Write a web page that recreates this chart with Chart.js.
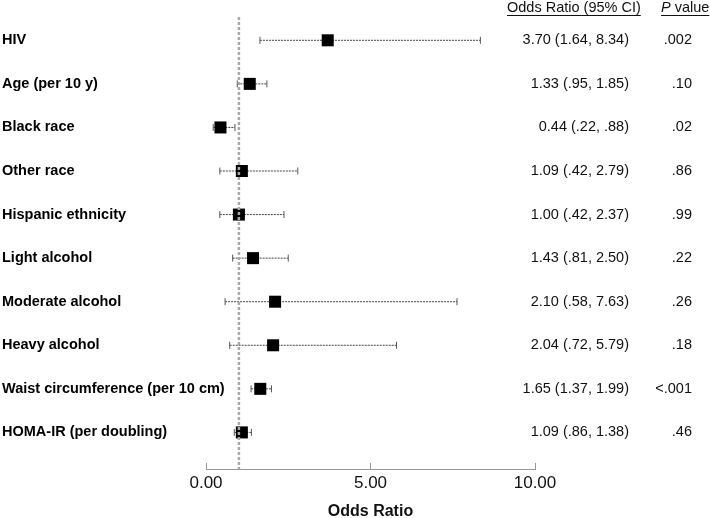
<!DOCTYPE html>
<html>
<head>
<meta charset="utf-8">
<script src="https://cdn.jsdelivr.net/npm/chart.js@4/dist/chart.umd.min.js"></script>
<style>
  html, body { margin: 0; padding: 0; background: #fff; }
  #wrap { width: 710px; height: 518px; position: relative; }
</style>
</head>
<body>
<div id="wrap"><canvas id="c"></canvas></div>
<script>
const categories = ["HIV", "Age (per 10 y)", "Black race", "Other race", "Hispanic ethnicity",
  "Light alcohol", "Moderate alcohol", "Heavy alcohol", "Waist circumference (per 10 cm)", "HOMA-IR (per doubling)"];
const oddsRatios = [3.70, 1.33, 0.44, 1.09, 1.00, 1.43, 2.10, 2.04, 1.65, 1.09];
const ciLow = [1.64, 0.95, 0.22, 0.42, 0.42, 0.81, 0.58, 0.72, 1.37, 0.86];
const ciHigh = [8.34, 1.85, 0.88, 2.79, 2.37, 2.50, 7.63, 5.79, 1.99, 1.38];
const pValues = [".002", ".10", ".02", ".86", ".99", ".22", ".26", ".18", "<.001", ".46"];
const xTicks = [0, 5, 10];
const referenceOR = 1;

const FONT = "'Liberation Sans', Arial, sans-serif";
const fmtCI = v => { const s = v.toFixed(2); return s.startsWith("0") ? s.slice(1) : s; };
const ciTexts = oddsRatios.map((o, i) => o.toFixed(2) + " (" + fmtCI(ciLow[i]) + ", " + fmtCI(ciHigh[i]) + ")");

const yMin = -0.535, yMax = 9.84;

const datasets = [];
// reference line at OR = 1 (on top)
datasets.push({
  type: 'line',
  data: [{x: referenceOR, y: yMin}, {x: referenceOR, y: yMax}],
  borderColor: '#a8a8a8', borderWidth: 2.5, borderDash: [3, 2],
  pointRadius: 0, order: 0
});
// odds ratio squares
datasets.push({
  type: 'scatter',
  data: oddsRatios.map((v, i) => ({x: v, y: i})),
  pointStyle: 'rect', pointRadius: 8.5, pointHoverRadius: 8.5,
  backgroundColor: '#000', borderColor: '#000', borderWidth: 0, order: 1
});
// confidence intervals
categories.forEach((c, i) => {
  datasets.push({
    type: 'line',
    data: [{x: ciLow[i], y: i}, {x: ciHigh[i], y: i}],
    borderColor: '#444', borderWidth: 1, borderDash: [2, 1],
    pointStyle: 'line', pointRotation: 90, pointRadius: 3.5, pointHoverRadius: 3.5,
    pointBorderColor: '#555', pointBorderWidth: 1, order: 2
  });
});

const columnsPlugin = {
  id: 'columns',
  afterDraw(chart) {
    const ctx = chart.ctx;
    const y = chart.scales.y;
    ctx.save();
    ctx.textBaseline = 'middle';
    // row labels
    ctx.fillStyle = '#000';
    ctx.font = "bold 14.5px " + FONT;
    ctx.textAlign = 'left';
    categories.forEach((c, i) => {
      ctx.fillText(c, 2, y.getPixelForValue(i));
    });
    ctx.fillStyle = '#111';
    ctx.font = "14.5px " + FONT;
    // header
    const h1 = "Odds Ratio (95% CI)";
    ctx.fillText(h1, 507, 8);
    const w1 = ctx.measureText(h1).width;
    ctx.fillRect(507, 15, w1, 1);
    ctx.font = "italic 14.5px " + FONT;
    ctx.fillText("P", 661, 8);
    const wp = ctx.measureText("P ").width;
    ctx.font = "14.5px " + FONT;
    ctx.fillText("value", 661 + wp, 8);
    const wv = ctx.measureText("value").width;
    ctx.fillRect(661, 15, wp + wv, 1);
    // rows
    ctx.textAlign = 'right';
    categories.forEach((c, i) => {
      const py = y.getPixelForValue(i);
      ctx.fillText(ciTexts[i], 629, py);
      ctx.fillText(pValues[i], 692, py);
    });
    ctx.restore();
  }
};

new Chart(document.getElementById('c'), {
  data: { datasets },
  options: {
    responsive: true, maintainAspectRatio: false, animation: false,
    layout: { padding: { left: 2, right: 175, top: 17, bottom: 0 } },
    plugins: { legend: { display: false }, tooltip: { enabled: false } },
    scales: {
      x: {
        type: 'linear', min: 0, max: 10,
        afterBuildTicks: axis => { axis.ticks = xTicks.map(v => ({value: v})); },
        afterFit: axis => { axis.height = 49; },
        grid: { drawOnChartArea: false, drawTicks: true, tickLength: -6, color: '#999', tickColor: '#999' },
        border: { display: true, color: '#999', width: 1 },
        ticks: { color: '#111', font: { family: FONT, size: 17 }, padding: 10, maxRotation: 0,
          callback: v => Number(v).toFixed(2) },
        title: { display: true, text: 'Odds Ratio', color: '#111',
          font: { family: FONT, size: 16, weight: 'bold' }, padding: { top: 0, bottom: -3 } }
      },
      y: {
        type: 'linear', reverse: true, min: yMin, max: yMax,
        afterBuildTicks: axis => { axis.ticks = categories.map((c, i) => ({value: i})); },
        afterFit: axis => { axis.width = 204; },
        grid: { display: false },
        border: { display: false },
        ticks: { display: false }
      }
    }
  },
  plugins: [columnsPlugin]
});
</script>
</body>
</html>
